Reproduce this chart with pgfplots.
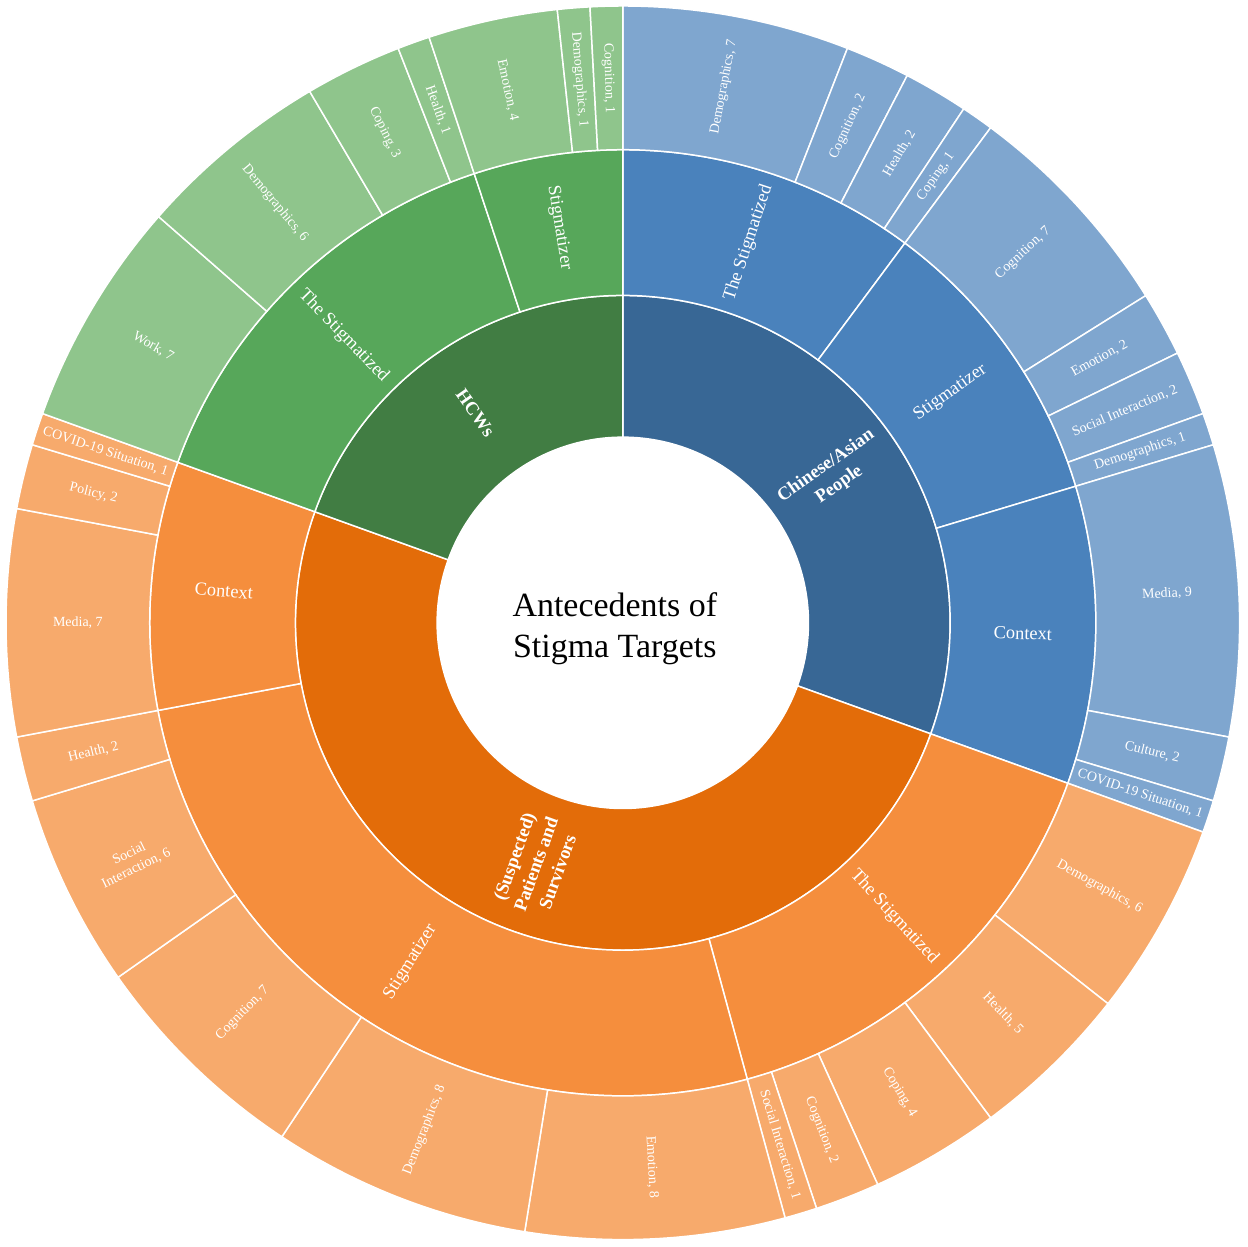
\documentclass[border=0pt]{standalone}
\usepackage{pgfplots}
\pgfplotsset{compat=1.18}
\usepackage{pgfplotstable}
\usepackage{fontspec}
\setmainfont{Liberation Serif}

% ring colours: A = Chinese/Asian, B = patients, C = HCWs
\definecolor{inA}{HTML}{386795}
\definecolor{midA}{HTML}{4A82BC}
\definecolor{outA}{HTML}{7FA6CF}
\definecolor{inB}{HTML}{E36C09}
\definecolor{midB}{HTML}{F58E3D}
\definecolor{outB}{HTML}{F7AA6C}
\definecolor{inC}{HTML}{417D43}
\definecolor{midC}{HTML}{57A75A}
\definecolor{outC}{HTML}{8FC58C}

% inner ring
\pgfplotstableread[col sep=comma]{
g,name,v
A,{Chinese/Asian\\People},36
B,{(Suspected)\\Patients and\\Survivors},59
C,HCWs,23
}\targets

% middle ring
\pgfplotstableread[col sep=comma]{
g,name,v
A,The Stigmatized,12
A,Stigmatizer,12
A,Context,12
B,The Stigmatized,18
B,Stigmatizer,31
B,Context,10
C,The Stigmatized,17
C,Stigmatizer,6
}\levels

% outer ring
\pgfplotstableread[col sep=comma]{
g,name,v
A,Demographics,7
A,Cognition,2
A,Health,2
A,Coping,1
A,Cognition,7
A,Emotion,2
A,Social Interaction,2
A,Demographics,1
A,Media,9
A,Culture,2
A,COVID-19 Situation,1
B,Demographics,6
B,Health,5
B,Coping,4
B,Cognition,2
B,Social Interaction,1
B,Emotion,8
B,Demographics,8
B,Cognition,7
B,{Social\\Interaction},6
B,Health,2
B,Media,7
B,Policy,2
B,COVID-19 Situation,1
C,Work,7
C,Demographics,6
C,Coping,3
C,Health,1
C,Emotion,4
C,Demographics,1
C,Cognition,1
}\antecedents

% total count (sum of the outer ring)
\pgfplotstablegetrowsof{\antecedents}
\pgfmathtruncatemacro\nleaf{\pgfplotsretval-1}
\def\total{0}
\pgfplotsforeachungrouped \i in {0,...,\nleaf}{%
  \pgfplotstablegetelem{\i}{v}\of{\antecedents}%
  \pgfmathsetmacro\total{\total+\pgfplotsretval}}
\pgfmathsetmacro\degper{360/\total}

% #1 table, #2 colour prefix, #3 r in, #4 r out, #5 font, #6 show value
\newcommand\drawring[6]{%
  \pgfplotstablegetrowsof{#1}%
  \pgfmathtruncatemacro\nrows{\pgfplotsretval-1}%
  \def\acc{0}%
  \pgfplotsforeachungrouped \i in {0,...,\nrows}{%
    \pgfplotstablegetelem{\i}{v}\of{#1}\let\val\pgfplotsretval
    \pgfplotstablegetelem{\i}{g}\of{#1}\let\grp\pgfplotsretval
    \pgfplotstablegetelem{\i}{name}\of{#1}\let\nm\pgfplotsretval
    \pgfmathsetmacro\sa{90-\acc*\degper}%
    \pgfmathsetmacro\ea{90-(\acc+\val)*\degper}%
    \pgfmathsetmacro\ma{(\sa+\ea)/2}%
    \pgfmathsetmacro\rot{\ma<-90 ? \ma+180 : \ma}%
    \pgfmathsetmacro\xa{#3*cos(\sa)}\pgfmathsetmacro\ya{#3*sin(\sa)}%
    \pgfmathsetmacro\xb{#4*cos(\sa)}\pgfmathsetmacro\yb{#4*sin(\sa)}%
    \pgfmathsetmacro\xc{#3*cos(\ea)}\pgfmathsetmacro\yc{#3*sin(\ea)}%
    \pgfmathsetmacro\xm{(#3+#4)/2*cos(\ma)}\pgfmathsetmacro\ym{(#3+#4)/2*sin(\ma)}%
    \edef\lab{\unexpanded\expandafter{\nm}\ifnum#6=1 , \val\fi}%
    \edef\temp{%
      \noexpand\filldraw[fill=#2\grp, draw=white, line width=0.75pt]
        (axis cs:\xa,\ya) -- (axis cs:\xb,\yb)
        arc[start angle=\sa, end angle=\ea, radius=#4pt]
        -- (axis cs:\xc,\yc)
        arc[start angle=\ea, end angle=\sa, radius=#3pt] -- cycle;
      \noexpand\node[text=white, align=center, rotate=\rot, inner sep=1pt,
        font=\unexpanded{#5}] at (axis cs:\xm,\ym) {\unexpanded\expandafter{\lab}};}%
    \temp
    \pgfmathsetmacro\acc{\acc+\val}%
  }%
}

\begin{document}
\begin{tikzpicture}
\begin{axis}[
    hide axis,
    scale only axis,
    width=624pt, height=624pt,
    xmin=-312, xmax=312,
    ymin=-312, ymax=312,
    clip=false
]
    \path (axis cs:-312,-312) rectangle (axis cs:312,312);
    \drawring{\targets}{in}{93}{164}{\fontsize{9.3}{11.5}\selectfont\bfseries}{0}
    \drawring{\levels}{mid}{164}{237}{\fontsize{9.2}{11}\selectfont}{0}
    \drawring{\antecedents}{out}{237}{309}{\fontsize{7}{8.2}\selectfont}{1}
    \node[align=center, font=\fontsize{17}{20.5}\selectfont]
        at (axis cs:-4,-3) {Antecedents of\\Stigma Targets};
\end{axis}
\end{tikzpicture}
\end{document}
